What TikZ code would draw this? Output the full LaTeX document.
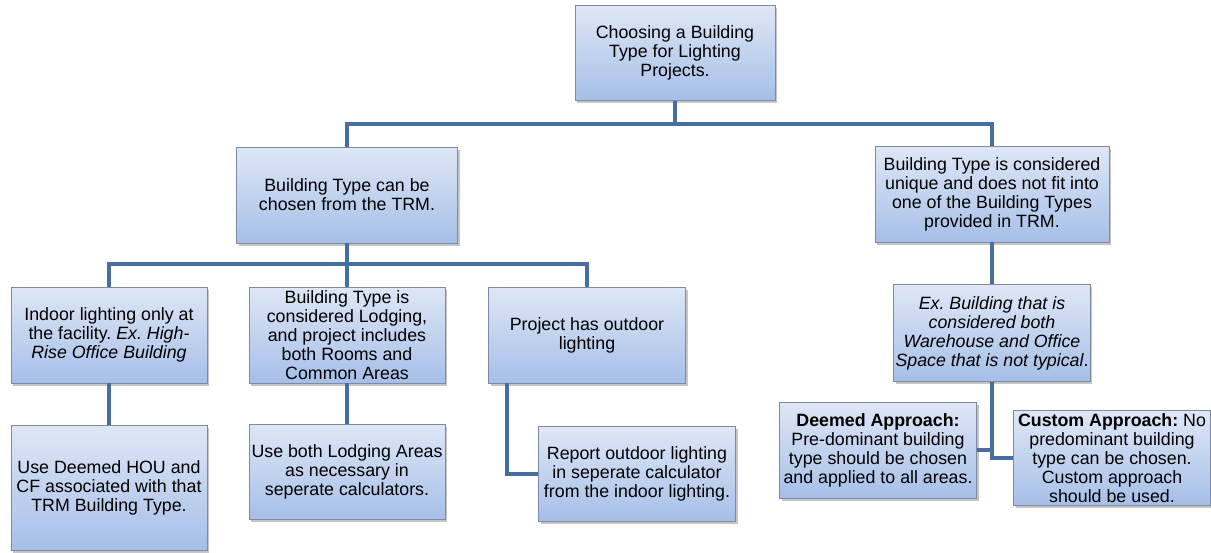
\documentclass[tikz,border=0pt]{standalone}
\usepackage{fontspec}
\setmainfont{Liberation Sans}
\usetikzlibrary{shadows}
\frenchspacing
\definecolor{boxtop}{RGB}{222,231,246}
\definecolor{boxbottom}{RGB}{166,191,232}
\definecolor{boxline}{RGB}{125,138,162}
\definecolor{linkblue}{RGB}{70,110,160}
\tikzset{
  box/.style={draw=boxline, line width=0.8pt, top color=boxtop, bottom color=boxbottom,
    drop shadow={shadow xshift=2pt, shadow yshift=-2.5pt, opacity=0.45},
    align=center, inner xsep=2pt, inner ysep=1pt, font=\fontsize{17.8}{19}\selectfont},
  link/.style={draw=linkblue, line width=4pt}
}
\begin{document}
\begin{tikzpicture}[x=1pt, y=-1pt]
  \useasboundingbox (0,0) rectangle (1211,552);
  \draw
    (675,53) node[box, minimum width=200, minimum height=95] (0)
      {Choosing a Building\\Type for Lighting\\Projects.}
    (347,195) node[box, minimum width=221, minimum height=96] (1)
      {Building Type can be\\chosen from the TRM.}
    (992,194) node[box, minimum width=234, minimum height=96] (2)
      {Building Type is considered\\unique and does not fit into\\one of the Building Types\\provided in TRM.}
    (109,335) node[box, minimum width=196, minimum height=96] (3)
      {Indoor lighting only at\\the facility. \textit{Ex. High-}\\\textit{Rise Office Building}}
    (347,335) node[box, minimum width=196, minimum height=96] (4)
      {Building Type is\\considered Lodging,\\and project includes\\both Rooms and\\Common Areas}
    (587,335) node[box, minimum width=197, minimum height=96] (5)
      {Project has outdoor\\lighting}
    (109,488) node[box, minimum width=196, minimum height=125] (6)
      {Use Deemed HOU and\\CF associated with that\\TRM Building Type.}
    (347,472) node[box, minimum width=196, minimum height=95] (7)
      {Use both Lodging Areas\\as necessary in\\seperate calculators.}
    (637,474) node[box, minimum width=197, minimum height=95] (8)
      {Report outdoor lighting\\in seperate calculator\\from the indoor lighting.}
    (992,333) node[box, minimum width=196, minimum height=97] (9)
      {\textit{Ex. Building that is}\\\textit{considered both}\\\textit{Warehouse and Office}\\\textit{Space that is not typical}.}
    (878,450) node[box, minimum width=197, minimum height=96] (10)
      {\textbf{Deemed Approach:}\\Pre-dominant building\\type should be chosen\\and applied to all areas.}
    (1112,458) node[box, minimum width=197, minimum height=95] (11)
      {\textbf{Custom Approach:} No\\predominant building\\type can be chosen.\\Custom approach\\should be used.};
  \coordinate (bar0) at (675,124);
  \coordinate (bar1) at (347,264);
  \begin{scope}[link]
    \draw (0.south) -- (bar0) -| (1.north);
    \draw (bar0) -| (2.north);
    \draw (1.south) -- (bar1) -| (3.north);
    \draw (bar1) -| (5.north);
    \draw (bar1) -- (4.north);
    \draw (3.south) -- (6.north);
    \draw (4.south) -- (7.north);
    \draw ([xshift=-80pt]5.south) |- (8.west);
    \draw (2.south) -- (9.north);
    \draw (9.south) |- (10.east);
    \draw (9.south) |- (11.west);
  \end{scope}
\end{tikzpicture}
\end{document}
